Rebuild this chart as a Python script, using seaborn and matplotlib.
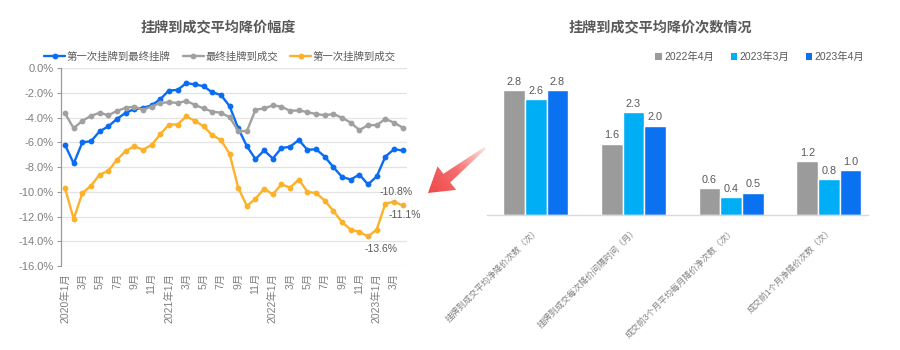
import numpy as np
import pandas as pd
import matplotlib
matplotlib.use("Agg")
import matplotlib.pyplot as plt
import seaborn as sns
from matplotlib.patches import Polygon
from matplotlib.ticker import FuncFormatter
from matplotlib.lines import Line2D
from matplotlib.patches import Patch
from matplotlib.colors import LinearSegmentedColormap

# ---------------- data ----------------
month_labels = [
    "2020年1月", "2月", "3月", "4月", "5月", "6月", "7月", "8月", "9月", "10月", "11月", "12月",
    "2021年1月", "2月", "3月", "4月", "5月", "6月", "7月", "8月", "9月", "10月", "11月", "12月",
    "2022年1月", "2月", "3月", "4月", "5月", "6月", "7月", "8月", "9月", "10月", "11月", "12月",
    "2023年1月", "2月", "3月", "4月",
]
first_to_last = [
    -6.2, -7.7, -6.0, -5.9, -5.1, -4.7, -4.1, -3.6, -3.3, -3.2,
    -3.0, -2.5, -1.8, -1.75, -1.2, -1.3, -1.45, -1.95, -2.15, -3.05,
    -4.85, -6.3, -7.35, -6.65, -7.3, -6.45, -6.35, -5.8, -6.6, -6.55,
    -7.15, -8.0, -8.8, -9.0, -8.6, -9.4, -8.75, -7.15, -6.55, -6.65,
]
last_to_deal = [
    -3.65, -4.85, -4.25, -3.85, -3.6, -3.8, -3.45, -3.2, -3.1, -3.35,
    -3.1, -2.8, -2.75, -2.8, -2.65, -2.95, -3.25, -3.5, -3.6, -3.95,
    -5.05, -5.1, -3.35, -3.25, -3.0, -3.1, -3.45, -3.4, -3.55, -3.7,
    -3.8, -3.7, -4.0, -4.4, -5.0, -4.6, -4.6, -4.1, -4.4, -4.8,
]
first_to_deal = [
    -9.7, -12.2, -10.1, -9.5, -8.6, -8.3, -7.4, -6.7, -6.3, -6.6,
    -6.2, -5.35, -4.55, -4.55, -3.9, -4.25, -4.7, -5.4, -5.8, -6.9,
    -9.65, -11.15, -10.55, -9.75, -10.2, -9.4, -9.65, -9.0, -10.0, -10.1,
    -10.7, -11.55, -12.45, -13.05, -13.25, -13.6, -13.05, -10.95, -10.8, -11.1,
]
line_names = ["第一次挂牌到最终挂牌", "最终挂牌到成交", "第一次挂牌到成交"]

bar_categories = [
    "挂牌到成交平均净降价次数（次）",
    "挂牌到成交每次降价间隔时间（月）",
    "成交前3个月平均每月降价净次数（次）",
    "成交前1个月净降价次数（次）",
]
bar_periods = ["2022年4月", "2023年3月", "2023年4月"]
bars_2022_04 = [2.8, 1.6, 0.6, 1.2]
bars_2023_03 = [2.6, 2.3, 0.4, 0.8]
bars_2023_04 = [2.8, 2.0, 0.5, 1.0]

# ---------------- style ----------------
sns.set_theme(style="white")
plt.rcParams["font.family"] = ["Liberation Sans", "Noto Sans CJK SC", "DejaVu Sans"]
plt.rcParams["axes.unicode_minus"] = False

TXT = "#595959"
TICK = "#7F7F7F"
line_colors = ["#0A6CF2", "#A0A0A0", "#FDB12B"]
bar_colors = ["#9B9B9B", "#00AEF5", "#0A72F0"]

W, H = 900, 350
fig = plt.figure(figsize=(9, 3.5), dpi=100)

def fx(px):
    return px / W

def fy(py):
    return 1 - py / H

# ---------------- left chart ----------------
ax1 = fig.add_axes([fx(60.7), fy(266), (407 - 60.7) / W, (266 - 68.3) / H])
n = len(month_labels)
line_df = pd.DataFrame({
    "idx": list(range(n)) * 3,
    "value": first_to_last + last_to_deal + first_to_deal,
    "series": [line_names[0]] * n + [line_names[1]] * n + [line_names[2]] * n,
})
sns.lineplot(
    data=line_df, x="idx", y="value", hue="series", hue_order=line_names,
    palette=line_colors, marker="o", markersize=4.2, markeredgewidth=0,
    linewidth=1.7, legend=False, ax=ax1,
)
ax1.set_xlim(-0.5, n - 0.5)
ax1.set_ylim(-16, 0)
ax1.set_yticks(np.arange(-16, 0.1, 2))
ax1.yaxis.set_major_formatter(FuncFormatter(lambda v, p: f"{v:.1f}%"))
ax1.set_xticks(range(0, n, 2))
ax1.set_xticklabels([month_labels[i] for i in range(0, n, 2)], rotation=90,
                    ha="center", va="top")
ax1.tick_params(axis="x", length=0, pad=5, labelsize=7.5, colors=TICK)
ax1.tick_params(axis="y", length=3, width=0.8, color="#9A9A9A", pad=2,
                labelsize=8, colors=TICK, left=True)
ax1.set_xlabel("")
ax1.set_ylabel("")
ax1.grid(axis="y", color="#E3E3E3", linewidth=0.9)
ax1.set_axisbelow(True)
for s in ["top", "right", "bottom"]:
    ax1.spines[s].set_visible(False)
ax1.spines["left"].set_color("#9A9A9A")
ax1.spines["left"].set_linewidth(0.9)

# annotations
ann_kw = dict(fontsize=7.5, color=TXT, ha="center", va="center",
              textcoords="offset points",
              arrowprops=dict(arrowstyle="-", color="#A6A6A6", lw=0.6,
                              shrinkA=3, shrinkB=2))
i_min = int(np.argmin(first_to_deal))
ax1.annotate(f"{first_to_deal[i_min]:.1f}%", (i_min, first_to_deal[i_min]),
             xytext=(9, -9), **ann_kw)
ax1.annotate(f"{first_to_deal[-2]:.1f}%", (n - 2, first_to_deal[-2]),
             xytext=(1.5, 7), **ann_kw)
ax1.annotate(f"{first_to_deal[-1]:.1f}%", (n - 1, first_to_deal[-1]),
             xytext=(1.5, -7), **ann_kw)

fig.text(fx(218), fy(28), "挂牌到成交平均降价幅度", fontsize=10.2,
         fontweight="bold", color=TXT, ha="center", va="center")
handles1 = [Line2D([0], [0], color=c, lw=1.7, marker="o", markersize=4.2,
                   markeredgewidth=0) for c in line_colors]
fig.legend(handles1, line_names, loc="center", bbox_to_anchor=(fx(220), fy(57)),
           ncol=3, frameon=False, fontsize=7.5, labelcolor=TXT,
           handlelength=2.0, handletextpad=0.15, columnspacing=1.2)

# ---------------- right chart ----------------
ax2 = fig.add_axes([fx(487), fy(215), (868 - 487) / W, (215 - 70) / H])
bar_df = pd.DataFrame({
    "cat": bar_categories * 3,
    "period": [bar_periods[0]] * 4 + [bar_periods[1]] * 4 + [bar_periods[2]] * 4,
    "value": bars_2022_04 + bars_2023_03 + bars_2023_04,
})
sns.barplot(data=bar_df, x="cat", y="value", hue="period", hue_order=bar_periods,
            palette=bar_colors, saturation=1, width=0.665, gap=0,
            legend=False, ax=ax2)
for cont in ax2.containers:
    ax2.bar_label(cont, fmt="%.1f", padding=2.5, fontsize=7.8, color=TXT)
ax2.set_xlim(-0.5, 3.4)
ax2.set_ylim(0, 3.25)
ax2.set_yticks([])
ax2.set_xlabel("")
ax2.set_ylabel("")
ax2.set_xticks(range(len(bar_categories)))
ax2.set_xticklabels(bar_categories, rotation=45, ha="right",
                    rotation_mode="anchor")
ax2.tick_params(axis="x", length=0, pad=8, labelsize=6.2, colors=TICK)
for s in ["top", "right", "left"]:
    ax2.spines[s].set_visible(False)
ax2.spines["bottom"].set_color("#D9D9D9")
ax2.spines["bottom"].set_linewidth(1)

fig.text(fx(660), fy(28), "挂牌到成交平均降价次数情况", fontsize=10.2,
         fontweight="bold", color=TXT, ha="center", va="center")
handles2 = [Patch(facecolor=c, edgecolor="none") for c in bar_colors]
fig.legend(handles2, bar_periods, loc="center", bbox_to_anchor=(fx(760), fy(57)),
           ncol=3, frameon=False, fontsize=7.5, labelcolor=TXT,
           handlelength=0.6, handleheight=0.6, handletextpad=0.25,
           columnspacing=1.6)

# ---------------- gradient arrow between the charts ----------------
ov = fig.add_axes([0, 0, 1, 1], zorder=5)
ov.set_xlim(0, W)
ov.set_ylim(H, 0)
ov.axis("off")
ov.patch.set_alpha(0)
tail = np.array([485.0, 148.0])
tip = np.array([428.0, 193.0])
d = (tip - tail) / np.linalg.norm(tip - tail)
nrm = np.array([-d[1], d[0]])
base = tip - d * 24
pts = [tail + nrm * 1.2, base + nrm * 5.5, base + nrm * 15, tip,
       base - nrm * 15, base - nrm * 5.5, tail - nrm * 1.2]
poly = Polygon(pts, closed=True, facecolor="none", edgecolor="none")
ov.add_patch(poly)
xs = np.linspace(420, 490, 140)
ys = np.linspace(140, 200, 120)
XX, YY = np.meshgrid(xs, ys)
L = np.linalg.norm(tip - tail)
t = np.clip(((XX - tail[0]) * d[0] + (YY - tail[1]) * d[1]) / L, 0, 1)
cmap = LinearSegmentedColormap.from_list("arr", ["#FCE0E0", "#F46E6E", "#EF4848"])
im = ov.imshow(t, extent=(420, 490, 200, 140), cmap=cmap, vmin=0, vmax=1,
               origin="upper", aspect="auto", interpolation="bilinear")
im.set_clip_path(poly)
ov.set_xlim(0, W)
ov.set_ylim(H, 0)

fig.savefig("out.png", dpi=100)
